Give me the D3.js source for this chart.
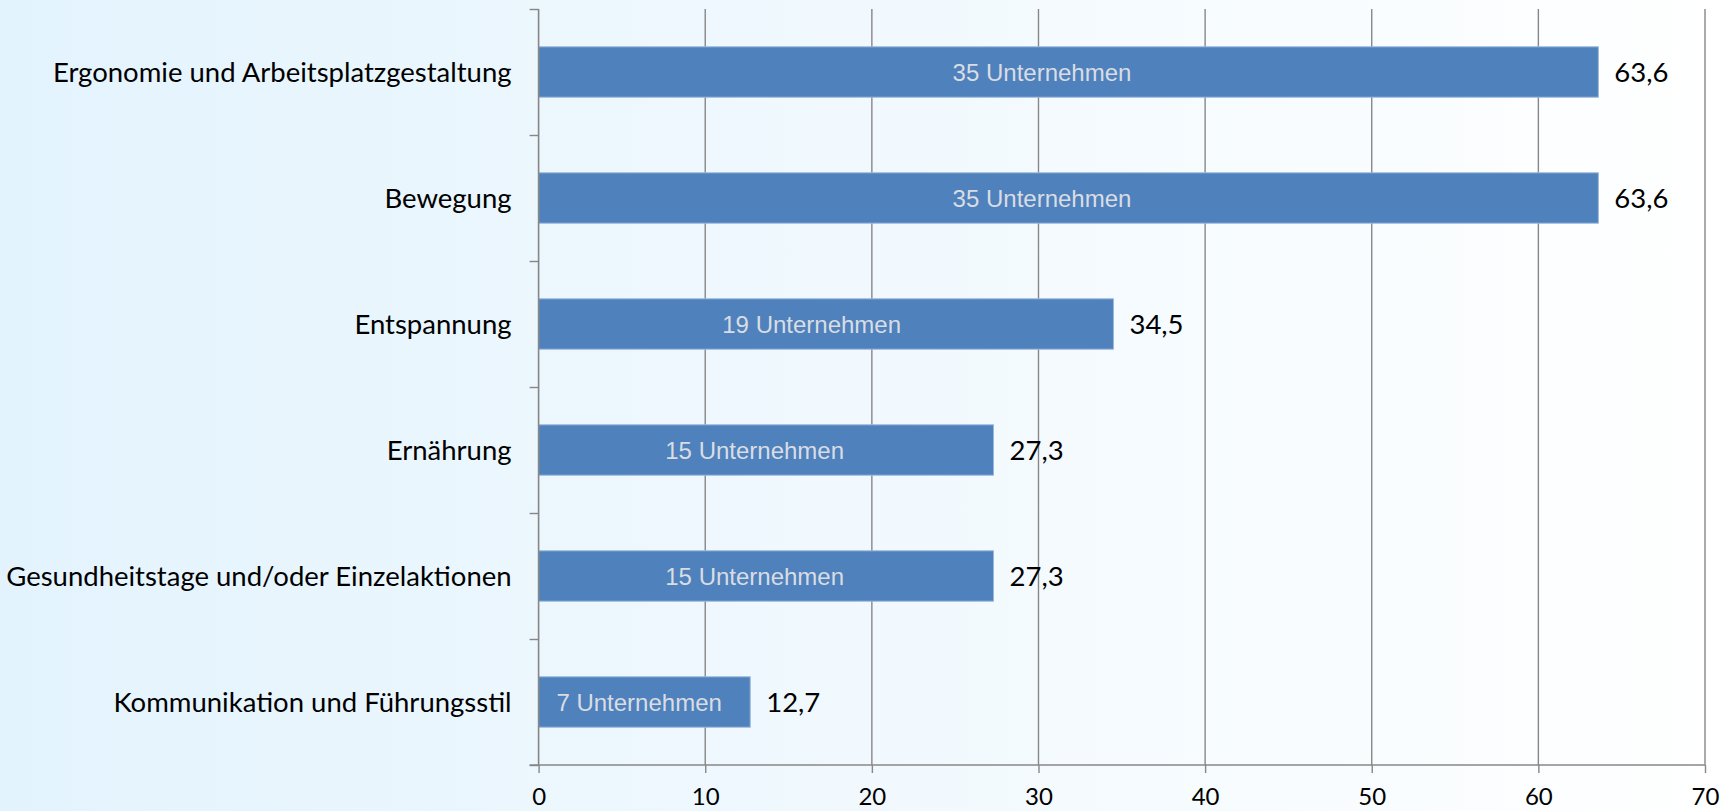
<!DOCTYPE html>
<html>
<head>
<meta charset="utf-8">
<script src="https://cdn.jsdelivr.net/npm/d3@7"></script>
<style>
  html, body { margin: 0; padding: 0; overflow: hidden; }
  svg { display: block; }
</style>
</head>
<body>
<svg id="chart" width="1734" height="811"></svg>
<script>
// Maßnahmenbereiche der betrieblichen Gesundheitsförderung
const categories = [
  "Ergonomie und Arbeitsplatzgestaltung",
  "Bewegung",
  "Entspannung",
  "Ernährung",
  "Gesundheitstage und/oder Einzelaktionen",
  "Kommunikation und Führungsstil"
];
// Anteil der Unternehmen in Prozent
const percentValues = [63.6, 63.6, 34.5, 27.3, 27.3, 12.7];
// Anzahl der Unternehmen je Bereich
const companyCounts = [35, 35, 19, 15, 15, 7];
const xTicks = [0, 10, 20, 30, 40, 50, 60, 70];

const W = 1734, H = 811;
const margin = { top: 9, right: 29, bottom: 46, left: 538.6 };
const plotW = W - margin.left - margin.right;
const plotH = H - margin.top - margin.bottom;

const labelFont = "Lato, 'Open Sans', 'Noto Sans', sans-serif";
const innerFont = "'Liberation Sans', Arial, sans-serif";
const gridColor = "#878787";

const svg = d3.select("#chart");

// background: soft horizontal gradient from light blue to white
const defs = svg.append("defs");
const grad = defs.append("linearGradient")
  .attr("id", "bg").attr("x1", "0%").attr("x2", "100%").attr("y1", "0%").attr("y2", "0%");
grad.append("stop").attr("offset", "0%").attr("stop-color", "#e3f3fd");
grad.append("stop").attr("offset", "100%").attr("stop-color", "#ffffff");
svg.append("rect").attr("width", W).attr("height", H).attr("fill", "url(#bg)");

const g = svg.append("g").attr("transform", `translate(${margin.left},${margin.top})`);

const x = d3.scaleLinear().domain([0, 70]).range([0, plotW]);
const y = d3.scaleBand().domain(categories).range([0, plotH])
  .paddingInner(0.6).paddingOuter(0.3);
// band boundaries for the category axis ticks
const yEdge = d3.scaleLinear().domain([0, categories.length]).range([0, plotH]);

// vertical gridlines
g.append("g")
  .selectAll("line")
  .data(xTicks.filter(d => d > 0))
  .join("line")
  .attr("x1", d => x(d)).attr("x2", d => x(d))
  .attr("y1", 0).attr("y2", plotH)
  .attr("stroke", gridColor).attr("stroke-width", 1.4);

// bars
g.append("g")
  .selectAll("rect")
  .data(categories)
  .join("rect")
  .attr("x", x(0))
  .attr("y", d => y(d))
  .attr("width", (d, i) => x(percentValues[i]) - x(0))
  .attr("height", y.bandwidth())
  .attr("fill", "#4f81bd")
  .attr("stroke", "#9ab8dc")
  .attr("stroke-width", 1);

// category axis (ticks between categories)
const yAxis = g.append("g")
  .call(d3.axisLeft(yEdge).tickValues(d3.range(0, categories.length + 1)).tickSize(9).tickFormat(""));
yAxis.select(".domain").attr("stroke", gridColor).attr("stroke-width", 1.6).attr("d", `M0,0V${plotH}`);
yAxis.selectAll(".tick line").attr("stroke", gridColor).attr("stroke-width", 1.4);

// value axis
const xAxis = g.append("g")
  .attr("transform", `translate(0,${plotH})`)
  .call(d3.axisBottom(x).tickValues(xTicks).tickSize(8).tickPadding(15).tickFormat(d3.format("d")));
xAxis.select(".domain").attr("stroke", gridColor).attr("stroke-width", 1.6).attr("d", `M-9,0H${plotW}`);
xAxis.selectAll(".tick line").attr("stroke", gridColor).attr("stroke-width", 1.4);
xAxis.selectAll(".tick text")
  .attr("fill", "#000").attr("font-family", labelFont).attr("font-size", 24);

// category labels
g.append("g")
  .selectAll("text")
  .data(categories)
  .join("text")
  .attr("x", -27)
  .attr("y", d => y(d) + y.bandwidth() / 2)
  .attr("dy", "0.35em")
  .attr("text-anchor", "end")
  .attr("font-family", labelFont)
  .attr("font-size", 27.5)
  .attr("fill", "#000")
  .text(d => d);

// percentage labels at bar ends
const fmt = v => d3.format(".1f")(v).replace(".", ",");
g.append("g")
  .selectAll("text")
  .data(categories)
  .join("text")
  .attr("x", (d, i) => x(percentValues[i]) + 16)
  .attr("y", d => y(d) + y.bandwidth() / 2)
  .attr("dy", "0.35em")
  .attr("font-family", labelFont)
  .attr("font-size", 27.5)
  .attr("fill", "#000")
  .text((d, i) => fmt(percentValues[i]));

// company counts inside the bars
g.append("g")
  .selectAll("text")
  .data(categories)
  .join("text")
  .attr("x", (d, i) => x(percentValues[i] * 0.475))
  .attr("y", d => y(d) + y.bandwidth() / 2 + 1)
  .attr("dy", "0.35em")
  .attr("text-anchor", "middle")
  .attr("font-family", innerFont)
  .attr("font-size", 24)
  .attr("fill", "#d9dde3")
  .text((d, i) => `${companyCounts[i]} Unternehmen`);
</script>
</body>
</html>
